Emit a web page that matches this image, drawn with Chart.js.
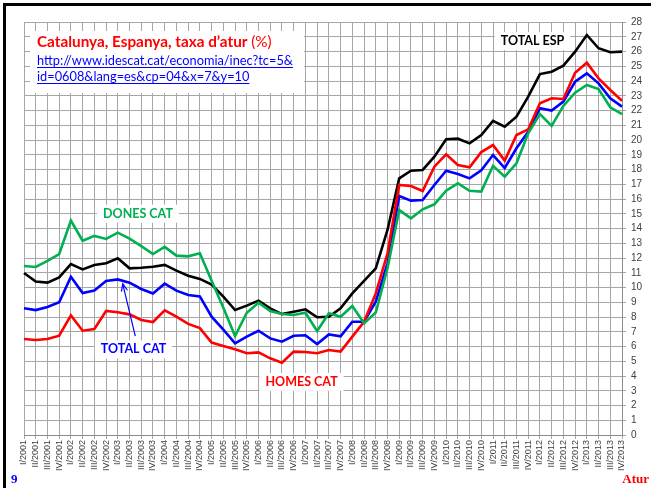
<!DOCTYPE html>
<html><head><meta charset="utf-8">
<script src="https://cdn.jsdelivr.net/npm/chart.js@4/dist/chart.umd.min.js"></script>
<style>
html,body{margin:0;padding:0;background:#fff;}
#wrap{position:relative;width:651px;height:488px;}
#frame{position:absolute;left:3px;top:3px;right:-10px;bottom:-10px;border-top:3px solid #000;border-left:3px solid #000;pointer-events:none;}
canvas{position:absolute;left:0;top:0;}
</style></head>
<body><div id="wrap"><canvas id="c" width="651" height="488"></canvas><div id="frame"></div></div>
<script>
const quarters = ["I","II","III","IV"];
const years = [2001,2002,2003,2004,2005,2006,2007,2008,2009,2010,2011,2012,2013];
const categories = [];
years.forEach(y => quarters.forEach(q => categories.push(q + "/" + y)));

const totalEsp = [10.98,10.4,10.33,10.69,11.59,11.23,11.53,11.64,11.98,11.3,11.34,11.41,11.53,11.14,10.8,10.58,
  10.2,9.38,8.47,8.77,9.11,8.59,8.2,8.36,8.52,7.98,8.02,8.59,9.6,10.45,11.3,13.9,
  17.4,17.92,17.97,18.87,20.05,20.09,19.77,20.34,21.3,20.9,
  21.58,22.94,24.47,24.63,25.04,25.99,27.12,26.22,25.95,25.99];
const totalCat = [8.59,8.47,8.68,9.0,10.73,9.63,9.79,10.44,10.55,10.33,9.9,9.6,10.26,9.79,9.49,9.4,
  8.02,7.14,6.21,6.67,7.07,6.55,6.33,6.73,6.76,6.17,6.82,6.69,7.68,7.68,9.04,11.64,
  16.2,15.89,15.93,16.95,17.92,17.7,17.4,17.95,18.98,18.1,
  19.44,20.56,22.15,21.99,22.6,23.95,24.52,23.84,22.83,22.26];
const homesCat = [6.51,6.44,6.51,6.73,8.11,7.07,7.19,8.41,8.32,8.18,7.8,7.66,8.45,8.02,7.53,7.25,
  6.27,6.03,5.81,5.54,5.6,5.2,4.9,5.65,5.63,5.54,5.76,5.65,6.67,7.68,9.6,12.32,
  16.95,16.88,16.54,18.19,19.03,18.31,18.15,19.18,19.66,18.6,
  20.34,20.72,22.49,22.83,22.78,24.56,25.24,24.18,23.39,22.66];
const donesCat = [11.46,11.39,11.8,12.27,14.53,13.17,13.5,13.29,13.72,13.31,12.81,12.27,12.75,12.16,12.11,12.32,
  10.46,8.63,6.71,8.29,8.97,8.41,8.2,8.14,8.29,7.05,8.25,8.02,8.75,7.57,8.3,11.3,
  15.25,14.69,15.3,15.64,16.56,17.06,16.56,16.5,18.25,17.51,
  18.42,20.45,21.76,20.95,22.31,23.21,23.73,23.46,22.22,21.76];

const seriesNames = ["TOTAL ESP","TOTAL CAT","HOMES CAT","DONES CAT"];
const titleText = "Catalunya, Espanya, taxa d\u2019atur";
const titleUnit = "(%)";
const linkLines = ["http://www.idescat.cat/economia/inec?tc=5&", "id=0608&lang=es&cp=04&x=7&y=10"];
const yMin = 0, yMax = 28, yStep = 1;

// label anchors in data coords [categoryIndex, value]
const labelSpots = [
  {text: "DONES CAT", color: "#00b050", at: [9.72, 15.0]},
  {text: "TOTAL CAT", color: "#0000ff", at: [9.34, 5.8]},
  {text: "HOMES CAT", color: "#ff0000", at: [23.67, 3.6]},
  {text: "TOTAL ESP", color: "#000000", at: [43.37, 26.7]}
];
const arrowFrom = [9.49, 6.7], arrowTo = [8.42, 10.25];

const deco = {
  id: "deco",
  beforeDatasetsDraw(chart) {
    const ctx = chart.ctx, xs = chart.scales.x, ys = chart.scales.y;
    ctx.save();
    // title box
    ctx.fillStyle = "#fff";
    ctx.fillRect(30, 31, 274, 62);
    ctx.textBaseline = "alphabetic";
    ctx.font = "bold 15.3px Lato";
    ctx.fillStyle = "#ff0000";
    ctx.fillText(titleText, 37, 47);
    const w = ctx.measureText(titleText + " ").width;
    ctx.font = "15.3px Lato";
    ctx.fillText(titleUnit, 37 + w, 47);
    ctx.font = "12.8px Lato";
    ctx.fillStyle = "#0000ff";
    ctx.strokeStyle = "#0000ff";
    ctx.lineWidth = 1;
    linkLines.forEach((t, k) => {
      const yb = 65 + k * 16;
      ctx.fillText(t, 37, yb);
      const tw = ctx.measureText(t).width;
      ctx.beginPath(); ctx.moveTo(37, yb + 2.5); ctx.lineTo(37 + tw, yb + 2.5); ctx.stroke();
    });
    // series labels
    ctx.font = "bold 12.5px Lato";
    ctx.textAlign = "center";
    ctx.textBaseline = "middle";
    labelSpots.forEach(s => {
      const px = xs.getPixelForValue(s.at[0]), py = ys.getPixelForValue(s.at[1]);
      const tw = ctx.measureText(s.text).width;
      ctx.fillStyle = "#fff";
      ctx.fillRect(px - tw / 2 - 6, py - 9, tw + 12, 18);
      ctx.fillStyle = s.color;
      ctx.fillText(s.text, px, py);
    });
    ctx.restore();
  },
  afterDraw(chart) {
    const ctx = chart.ctx, xs = chart.scales.x, ys = chart.scales.y;
    ctx.save();
    // arrow
    const x1 = xs.getPixelForValue(arrowFrom[0]), y1 = ys.getPixelForValue(arrowFrom[1]);
    const x2 = xs.getPixelForValue(arrowTo[0]), y2 = ys.getPixelForValue(arrowTo[1]);
    ctx.strokeStyle = "#0000ff";
    ctx.lineWidth = 1.2;
    ctx.beginPath(); ctx.moveTo(x1, y1); ctx.lineTo(x2, y2); ctx.stroke();
    const ang = Math.atan2(y2 - y1, x2 - x1), L = 8;
    ctx.beginPath();
    ctx.moveTo(x2 - L * Math.cos(ang - 0.4), y2 - L * Math.sin(ang - 0.4));
    ctx.lineTo(x2, y2);
    ctx.lineTo(x2 - L * Math.cos(ang + 0.4), y2 - L * Math.sin(ang + 0.4));
    ctx.stroke();
    // corner texts
    ctx.font = "bold 13px 'Liberation Serif'";
    ctx.textBaseline = "alphabetic";
    ctx.fillStyle = "#0000ff";
    ctx.textAlign = "left";
    ctx.fillText("9", 11, 483);
    ctx.fillStyle = "#ff0000";
    ctx.textAlign = "right";
    ctx.fillText("Atur", 649, 483);
    ctx.restore();
  }
};

const mk = (label, data, color) => ({
  label, data, borderColor: color, backgroundColor: color,
  borderWidth: 2.6, pointRadius: 0, tension: 0, fill: false
});

new Chart(document.getElementById("c"), {
  type: "line",
  data: {
    labels: categories,
    datasets: [
      mk(seriesNames[3], donesCat, "#00b050"),
      mk(seriesNames[2], homesCat, "#ff0000"),
      mk(seriesNames[1], totalCat, "#0000ff"),
      mk(seriesNames[0], totalEsp, "#000000")
    ]
  },
  options: {
    responsive: false,
    animation: false,
    events: [],
    layout: {padding: {left: 24, top: 22, right: 0, bottom: 0}},
    plugins: {legend: {display: false}, tooltip: {enabled: false}, title: {display: false}},
    scales: {
      x: {
        offset: false,
        grid: {color: "#a6a6a6", lineWidth: 1, tickLength: 4, drawTicks: true},
        border: {color: "#8c8c8c", width: 1},
        ticks: {autoSkip: false, maxRotation: 90, minRotation: 90, padding: 1,
                font: {family: "'Liberation Sans'", size: 9}, color: "#404040"},
        afterFit(s) { s.height = 53; }
      },
      y: {
        position: "right",
        min: yMin, max: yMax,
        grid: {color: "#a6a6a6", lineWidth: 1, tickLength: 4},
        border: {color: "#8c8c8c", width: 1},
        ticks: {stepSize: yStep, autoSkip: false, maxTicksLimit: 100, padding: 5,
                font: {family: "'Liberation Sans'", size: 10}, color: "#404040"},
        afterFit(s) { s.width = 29; }
      }
    }
  },
  plugins: [deco]
});
</script>
</body></html>
